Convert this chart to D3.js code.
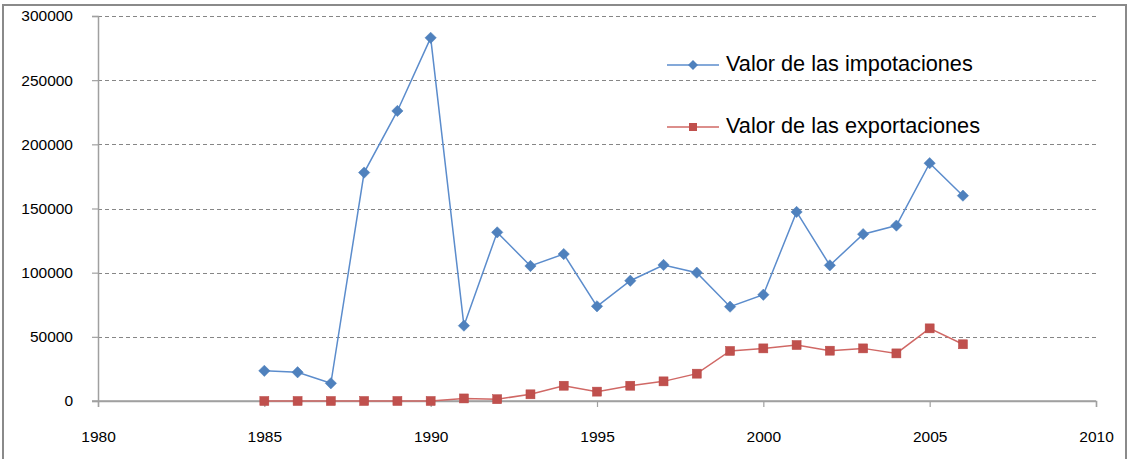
<!DOCTYPE html>
<html>
<head>
<meta charset="utf-8">
<script src="https://cdn.jsdelivr.net/npm/d3@7"></script>
<style>
  html, body { margin: 0; padding: 0; background: #fff; }
  svg { display: block; }
  text { font-family: "Liberation Sans", Arial, sans-serif; fill: #000; }
</style>
</head>
<body>
<svg id="chart" width="1129" height="459"></svg>
<script>
const years = [1985,1986,1987,1988,1989,1990,1991,1992,1993,1994,1995,1996,1997,1998,1999,2000,2001,2002,2003,2004,2005,2006];
const importValues = [23500,22400,13800,178000,226000,283000,58700,131400,105200,114500,73800,93700,106000,100000,73500,82800,147300,105700,130000,136700,185300,160000];
const exportValues = [0,0,0,0,0,0,2000,1400,5200,11900,7300,11900,15300,21300,39000,41000,43600,39200,41000,37100,56600,44200];
const seriesNames = ["Valor de las impotaciones", "Valor de las exportaciones"];
const xTicks = [1980,1985,1990,1995,2000,2005,2010];
const yTicks = [0,50000,100000,150000,200000,250000,300000];

(function () {
const svg = d3.select("#chart");
const pLeft = 98, pRight = 1096, pTop = 16, pBottom = 401;

const x = d3.scaleLinear().domain([1980, 2010]).range([pLeft, pRight]);
const y = d3.scaleLinear().domain([0, 300000]).range([pBottom, pTop]);

// outer border
svg.append("rect").attr("x", 3).attr("y", 5).attr("width", 1123).attr("height", 460)
  .attr("fill", "none").attr("stroke", "#8a8a8a").attr("stroke-width", 2);

// gridlines
svg.append("g").selectAll("line").data(yTicks.filter(d => d > 0)).join("line")
  .attr("x1", pLeft).attr("x2", pRight)
  .attr("y1", d => Math.round(y(d)) + 0.5).attr("y2", d => Math.round(y(d)) + 0.5)
  .attr("stroke", "#868686").attr("stroke-width", 1).attr("stroke-dasharray", "4,3")
  .attr("shape-rendering", "crispEdges");

// y axis
const yAxis = d3.axisLeft(y).tickValues(yTicks).tickSize(6).tickPadding(19).tickFormat(d3.format("d"));
const gy = svg.append("g").attr("transform", `translate(${pLeft},0)`).call(yAxis);
gy.select(".domain").attr("stroke", "#a0a0a0").attr("stroke-width", 1.5);
gy.selectAll(".tick line").attr("stroke", "#a0a0a0").attr("stroke-width", 1.2);
gy.selectAll("text").style("font-size", "15.5px").attr("fill", "#111");

// x axis
const xAxis = d3.axisBottom(x).tickValues(xTicks).tickSize(6).tickPadding(24).tickFormat(d3.format("d"));
const gx = svg.append("g").attr("transform", `translate(0,${pBottom})`).call(xAxis);
gx.select(".domain").attr("stroke", "#a0a0a0").attr("stroke-width", 1.5);
gx.selectAll(".tick line").attr("stroke", "#a0a0a0").attr("stroke-width", 1.2);
gx.selectAll("text").style("font-size", "15.5px").attr("fill", "#111");
svg.append("line").attr("x1", pLeft - 6).attr("x2", pRight).attr("y1", y(0)).attr("y2", y(0))
  .attr("stroke", "#a0a0a0").attr("stroke-width", 1.5);

const blue = "#4f81bd", blueLine = "#5b8ccc";
const red = "#c0504d", redLine = "#d06865";

const line = d3.line().x(d => x(d[0])).y(d => y(d[1]));
const imp = years.map((yr, i) => [yr, importValues[i]]);
const exp = years.map((yr, i) => [yr, exportValues[i]]);

svg.append("path").datum(imp).attr("d", line).attr("fill", "none")
  .attr("stroke", blueLine).attr("stroke-width", 1.5);
svg.append("path").datum(exp).attr("d", line).attr("fill", "none")
  .attr("stroke", redLine).attr("stroke-width", 1.5);

const diamond = d3.symbol().type(d3.symbolSquare).size(64);
svg.append("g").selectAll("path").data(imp).join("path")
  .attr("d", diamond)
  .attr("transform", d => `translate(${x(d[0])},${y(d[1])}) rotate(45)`)
  .attr("fill", blue).attr("stroke", "#4a7ebb").attr("stroke-width", 0.5);

svg.append("g").selectAll("rect").data(exp).join("rect")
  .attr("x", d => x(d[0]) - 4.5).attr("y", d => y(d[1]) - 4.5)
  .attr("width", 9).attr("height", 9)
  .attr("fill", red).attr("stroke", "#b84744").attr("stroke-width", 0.5);

// legend
const legend = svg.append("g");
const legY = [65, 127];
legend.selectAll("line").data(seriesNames).join("line")
  .attr("x1", 667).attr("x2", 719)
  .attr("y1", (d, i) => legY[i]).attr("y2", (d, i) => legY[i])
  .attr("stroke", (d, i) => i === 0 ? blueLine : redLine).attr("stroke-width", 1.5);
legend.append("path").attr("d", d3.symbol().type(d3.symbolSquare).size(50))
  .attr("transform", `translate(693,${legY[0]}) rotate(45)`).attr("fill", blue);
legend.append("rect").attr("x", 693 - 4).attr("y", legY[1] - 4).attr("width", 8).attr("height", 8).attr("fill", red);
legend.selectAll("text").data(seriesNames).join("text")
  .attr("x", 726).attr("y", (d, i) => legY[i] + 5.5)
  .style("font-size", "21.7px")
  .text(d => d);
})();
</script>
</body>
</html>
